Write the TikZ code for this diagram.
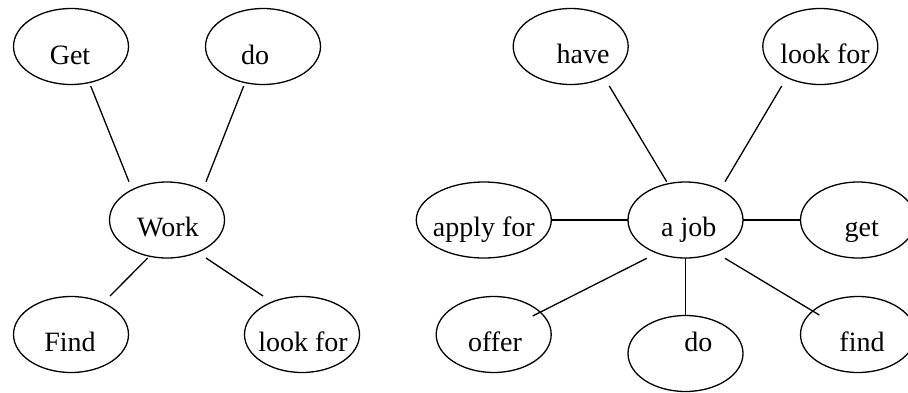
\documentclass[tikz,border=0pt]{standalone}
\usepackage{fontspec}
\setmainfont{Liberation Serif}
\usetikzlibrary{shapes.geometric}
\tikzset{
  x=1pt, y=-1pt,
  el/.style={ellipse, draw, line width=1.3pt, minimum width=115pt, minimum height=76pt, inner sep=0pt},
  wide/.style={minimum width=135pt},
  txt/.style={anchor=base, inner sep=0pt, font=\fontsize{28}{34}\selectfont},
  link/.style={line width=1.3pt}
}
\begin{document}
\begin{tikzpicture}
\clip (0,0) rectangle (908,392);
% left diagram
\node[el] (get) at (71,46.5) {};
\node[txt] (getT) at (70,64) {Get};
\node[el] (do1) at (263,46.5) {};
\node[txt] (do1T) at (255,64) {do};
\node[el] (work) at (167,220) {};
\node[txt] (workT) at (168,236.7) {Work};
\node[el] (find1) at (71,334.5) {};
\node[txt] (find1T) at (70,351.7) {Find};
\node[el] (look1) at (302,334.5) {};
\node[txt] (look1T) at (303,351.7) {look for};
\coordinate (l1a) at (90.7,86);   \coordinate (l1b) at (129,181.7);
\coordinate (l2a) at (243.7,86);  \coordinate (l2b) at (206,181.7);
\coordinate (l3a) at (147.7,258); \coordinate (l3b) at (110,296);
\coordinate (l4a) at (206,258);   \coordinate (l4b) at (263,296);
\draw[link] (l1a) -- (l1b);
\draw[link] (l2a) -- (l2b);
\draw[link] (l3a) -- (l3b);
\draw[link] (l4a) -- (l4b);
% right diagram
\node[el] (have) at (570.7,46.5) {};
\node[txt] (haveT) at (583,63.3) {have};
\node[el] (look2) at (820.3,46.5) {};
\node[txt] (look2T) at (825,63.3) {look for};
\node[el,wide] (apply) at (483.8,220) {};
\node[txt] (applyT) at (483.8,236.7) {apply for};
\node[el] (job) at (685.5,220) {};
\node[txt] (jobT) at (688.8,236.7) {a job};
\node[el] (get2) at (858,220) {};
\node[txt] (get2T) at (861.7,236.7) {get};
\node[el] (offer) at (493.7,334.5) {};
\node[txt] (offerT) at (495,351.7) {offer};
\node[el] (do2) at (685.5,353.5) {};
\node[txt] (do2T) at (698.3,351.7) {do};
\node[el] (find2) at (858,334.5) {};
\node[txt] (find2T) at (862,351.7) {find};
\coordinate (r1a) at (609.3,86);   \coordinate (r1b) at (666.7,181.7);
\coordinate (r2a) at (781.7,86);   \coordinate (r2b) at (725,181.7);
\coordinate (r3a) at (551.7,220);  \coordinate (r3b) at (627.7,220);
\coordinate (r4a) at (743.3,220);  \coordinate (r4b) at (800,220);
\coordinate (r5a) at (646.7,258.3);\coordinate (r5b) at (532.7,316);
\coordinate (r6a) at (685.7,258.3);\coordinate (r6b) at (685.7,315);
\coordinate (r7a) at (725,258.3);  \coordinate (r7b) at (819.3,315);
\draw[link] (r1a) -- (r1b);
\draw[link] (r2a) -- (r2b);
\draw[link] (r3a) -- (r3b);
\draw[link] (r4a) -- (r4b);
\draw[link] (r5a) -- (r5b);
\draw[link] (r6a) -- (r6b);
\draw[link] (r7a) -- (r7b);
\end{tikzpicture}
\end{document}
